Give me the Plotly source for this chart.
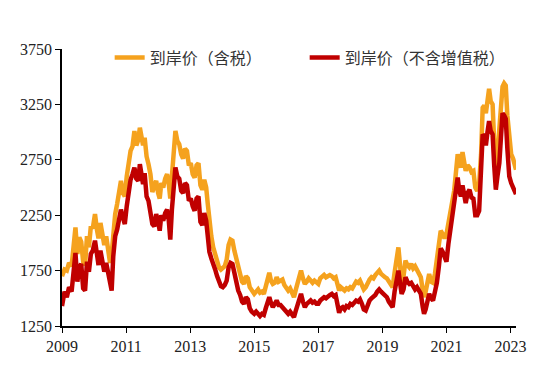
import plotly.graph_objects as go

years = [
    2009.00, 2009.08, 2009.15, 2009.22, 2009.30, 2009.36, 2009.42, 2009.48, 2009.54, 2009.60,
    2009.66, 2009.72, 2009.78, 2009.84, 2009.90, 2009.96, 2010.03, 2010.09, 2010.14, 2010.20,
    2010.26, 2010.32, 2010.38, 2010.44, 2010.50, 2010.55, 2010.60, 2010.66, 2010.72, 2010.78,
    2010.84, 2010.90, 2010.96, 2011.02, 2011.08, 2011.14, 2011.20, 2011.26, 2011.32, 2011.38,
    2011.43, 2011.48, 2011.53, 2011.58, 2011.64, 2011.70, 2011.76, 2011.82, 2011.88, 2011.94,
    2012.00, 2012.05, 2012.10, 2012.16, 2012.22, 2012.28, 2012.33, 2012.38, 2012.43, 2012.48,
    2012.54, 2012.60, 2012.66, 2012.72, 2012.78, 2012.84, 2012.90, 2012.96, 2013.02, 2013.08,
    2013.14, 2013.20, 2013.26, 2013.32, 2013.38, 2013.44, 2013.50, 2013.55, 2013.60, 2013.66,
    2013.72, 2013.78, 2013.84, 2013.90, 2013.96, 2014.02, 2014.08, 2014.14, 2014.20, 2014.26,
    2014.32, 2014.38, 2014.44, 2014.50, 2014.56, 2014.62, 2014.68, 2014.74, 2014.80, 2014.86,
    2014.92, 2015.00, 2015.06, 2015.12, 2015.18, 2015.24, 2015.30, 2015.36, 2015.42, 2015.47,
    2015.52, 2015.58, 2015.64, 2015.70, 2015.76, 2015.82, 2015.88, 2015.94, 2016.00, 2016.06,
    2016.12, 2016.18, 2016.24, 2016.30, 2016.36, 2016.42, 2016.46, 2016.52, 2016.58, 2016.64,
    2016.70, 2016.76, 2016.82, 2016.88, 2016.94, 2017.00, 2017.06, 2017.12, 2017.18, 2017.24,
    2017.30, 2017.36, 2017.42, 2017.48, 2017.54, 2017.60, 2017.65, 2017.70, 2017.76, 2017.82,
    2017.88, 2017.94, 2018.00, 2018.06, 2018.12, 2018.18, 2018.24, 2018.30, 2018.36, 2018.42,
    2018.48, 2018.54, 2018.60, 2018.66, 2018.72, 2018.78, 2018.84, 2018.90, 2018.96, 2019.02,
    2019.08, 2019.14, 2019.20, 2019.26, 2019.32, 2019.38, 2019.44, 2019.50, 2019.55, 2019.60,
    2019.66, 2019.72, 2019.78, 2019.84, 2019.90, 2019.96, 2020.02, 2020.08, 2020.14, 2020.20,
    2020.26, 2020.30, 2020.35, 2020.40, 2020.46, 2020.52, 2020.58, 2020.64, 2020.70, 2020.76,
    2020.82, 2020.88, 2020.94, 2021.00, 2021.06, 2021.12, 2021.18, 2021.24, 2021.30, 2021.35,
    2021.40, 2021.45, 2021.50, 2021.55, 2021.60, 2021.66, 2021.72, 2021.78, 2021.84, 2021.90,
    2021.96, 2022.02, 2022.08, 2022.13, 2022.18, 2022.23, 2022.28, 2022.33, 2022.38, 2022.44,
    2022.49, 2022.54, 2022.59, 2022.65, 2022.70, 2022.75, 2022.80, 2022.85, 2022.90, 2022.96,
    2023.02, 2023.08, 2023.13, 2023.17,
]

price_incl_tax = [
    1700, 1760, 1750, 1820, 1790, 2000, 2140, 1900, 2050, 2010,
    1830, 1800, 2060, 1960, 2150, 2130, 2260, 2120, 2040, 2180,
    2080, 1980, 2060, 1960, 1820, 1900, 2080, 2260, 2350, 2480,
    2560, 2450, 2420, 2600, 2720, 2830, 2870, 3010, 2880, 2930,
    3040, 2940, 2880, 2950, 2780, 2710, 2620, 2460, 2520, 2560,
    2450, 2400, 2540, 2500, 2580, 2620, 2540, 2400, 2600, 2750,
    3010, 2920, 2890, 2800, 2760, 2850, 2830, 2700, 2720, 2620,
    2590, 2700, 2720, 2520, 2480, 2570, 2500, 2350, 2180, 2060,
    1960, 1900, 1850, 1780, 1760, 1770, 1790, 1850, 1980, 2030,
    2020, 1930, 1850, 1760, 1720, 1650, 1630, 1700, 1680, 1600,
    1580, 1540, 1560, 1580, 1550, 1560, 1540, 1600, 1680, 1730,
    1660, 1630, 1640, 1690, 1650, 1660, 1670, 1620, 1600, 1570,
    1590, 1540, 1510, 1580, 1650, 1700, 1750, 1680, 1630, 1650,
    1680, 1660, 1640, 1660, 1640, 1630, 1680, 1700, 1710, 1690,
    1700, 1710, 1700, 1680, 1690, 1620, 1570, 1600, 1580, 1570,
    1590, 1580, 1600, 1590, 1620, 1650, 1640, 1660, 1620, 1580,
    1600, 1640, 1670, 1690, 1680, 1710, 1740, 1750, 1720, 1700,
    1690, 1680, 1650, 1620, 1600, 1730, 1850, 1960, 1800, 1640,
    1700, 1840, 1800, 1780, 1810, 1770, 1790, 1760, 1720, 1690,
    1570, 1510, 1560, 1660, 1720, 1650, 1640, 1720, 1830, 1960,
    2110, 2080, 2040, 2080, 2180, 2260, 2350, 2470, 2650, 2800,
    2720, 2680, 2820, 2720, 2650, 2700, 2680, 2640, 2650, 2500,
    2470, 2530, 2800, 3220, 3240, 3170, 3300, 3390, 3280, 3250,
    2900, 2640, 2800, 3010, 3200, 3410, 3440, 3420, 3150, 2950,
    2800, 2760, 2700, 2660,
]

price_excl_vat = [
    1430, 1560, 1510, 1600, 1560, 1780, 1910, 1650, 1780, 1810,
    1590, 1570, 1830, 1740, 1900, 1930, 2020, 1900, 1800, 1930,
    1840, 1740, 1820, 1720, 1610, 1570, 1880, 2060, 2120, 2240,
    2300, 2230, 2170, 2330, 2480, 2570, 2620, 2680, 2580, 2560,
    2710, 2600, 2530, 2630, 2420, 2380, 2290, 2170, 2150, 2260,
    2190, 2110, 2250, 2200, 2270, 2300, 2210, 2030, 2300, 2450,
    2680, 2600, 2580, 2470, 2450, 2540, 2520, 2380, 2400, 2330,
    2290, 2400, 2420, 2190, 2160, 2270, 2200, 2060, 1920, 1860,
    1790, 1760, 1700, 1650, 1610, 1600, 1620, 1660, 1780, 1820,
    1810, 1730, 1640, 1570, 1530, 1470, 1450, 1510, 1490, 1410,
    1380, 1360, 1380, 1350, 1340, 1360, 1350, 1410, 1480, 1510,
    1460, 1420, 1450, 1480, 1440, 1440, 1420, 1400, 1390, 1360,
    1380, 1350, 1330, 1390, 1450, 1500, 1540, 1470, 1420, 1450,
    1470, 1480, 1460, 1470, 1450, 1450, 1480, 1500, 1510, 1500,
    1520, 1530, 1540, 1520, 1530, 1440, 1370, 1410, 1420, 1400,
    1430, 1420, 1450, 1440, 1460, 1480, 1470, 1490, 1450, 1400,
    1390, 1440, 1480, 1500, 1510, 1530, 1560, 1580, 1560, 1540,
    1530, 1510, 1470, 1440, 1420, 1560, 1680, 1750, 1640, 1540,
    1580, 1690, 1650, 1630, 1640, 1600, 1580, 1600, 1560, 1540,
    1420, 1360, 1400, 1480, 1540, 1500, 1480, 1560, 1640, 1780,
    1950, 1920, 1860, 1830, 1990, 2120, 2220, 2320, 2450, 2590,
    2470, 2420, 2520, 2420, 2360, 2450, 2480, 2410, 2400, 2250,
    2250, 2290, 2600, 2980, 2960, 2880, 3000, 3100, 3010, 2980,
    2700, 2480, 2600, 2720, 2950, 3170, 3150, 3120, 2850, 2600,
    2540, 2500, 2460, 2440,
]

series_names = ["到岸价（含税）", "到岸价（不含增值税）"]
y_ticks = [1250, 1750, 2250, 2750, 3250, 3750]
x_ticks = [2009, 2011, 2013, 2015, 2017, 2019, 2021, 2023]

fig = go.Figure()
fig.add_trace(go.Scatter(x=years, y=price_incl_tax, mode="lines", name=series_names[0],
                         line=dict(color="#F5A21E", width=4.5)))
fig.add_trace(go.Scatter(x=years, y=price_excl_vat, mode="lines", name=series_names[1],
                         line=dict(color="#C00000", width=4.5)))

tick_font = dict(family="Liberation Serif, Times New Roman, serif", size=16, color="#222222")

fig.update_layout(
    width=550, height=380,
    margin=dict(l=54, r=42, t=41, b=62),
    plot_bgcolor="white", paper_bgcolor="white",
    showlegend=True,
    legend=dict(orientation="h", x=0.105, y=1.03, xanchor="left", yanchor="top",
                font=dict(family="Noto Sans CJK SC", size=16, color="#333333"),
                entrywidth=150, entrywidthmode="pixels",
                bgcolor="rgba(0,0,0,0)"),
)
fig.update_xaxes(range=[2009, 2023.17], tickvals=x_ticks, ticktext=[str(t) for t in x_ticks],
                 showgrid=False, zeroline=False, showline=True, linecolor="black", linewidth=1.5,
                 ticks="outside", ticklen=5, tickcolor="black", tickfont=tick_font)
fig.update_yaxes(range=[1250, 3750], tickvals=y_ticks, ticktext=[str(t) for t in y_ticks],
                 showgrid=False, zeroline=False, showline=True, linecolor="black", linewidth=1.5,
                 ticks="outside", ticklen=5, tickcolor="black", tickfont=tick_font)

fig.write_html("out.html")
